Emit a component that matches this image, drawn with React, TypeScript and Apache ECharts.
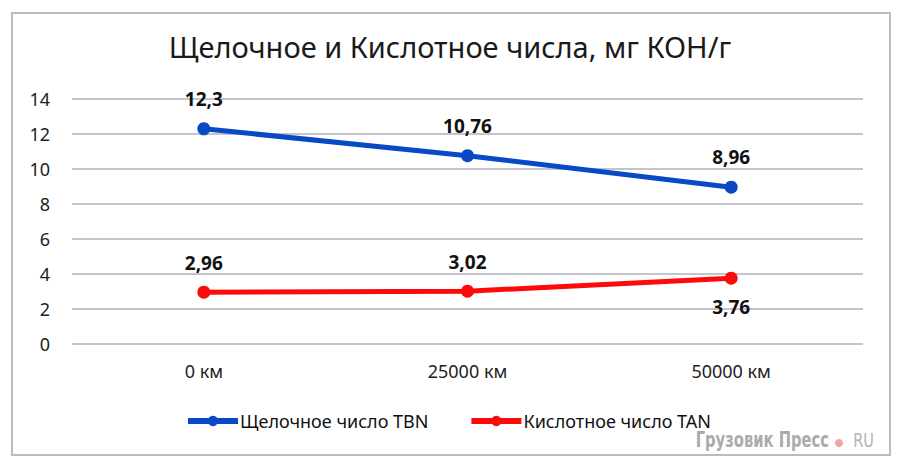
import React, { useEffect, useRef } from "react";
import * as echarts from "echarts";

const categories = ["0 км", "25000 км", "50000 км"];
const tbnValues = [12.3, 10.76, 8.96];
const tanValues = [2.96, 3.02, 3.76];
const tanLabelPositions = ["top", "top", "bottom"];
const yTicks = [0, 2, 4, 6, 8, 10, 12, 14];

const FONT = "'Noto Sans', 'Open Sans', sans-serif";
const WM_FONT = "'DejaVu Sans Condensed', 'DejaVu Sans', sans-serif";
const fmt = (v: number) => String(v).replace(".", ",");

export default function App() {
  const ref = useRef<HTMLDivElement>(null);
  useEffect(() => {
    const chart = echarts.init(ref.current!, null, { renderer: "svg" });
    chart.setOption({
      animation: false,
      backgroundColor: "#ffffff",
      title: {
        text: "Щелочное и Кислотное числа, мг КОН/г",
        left: "center",
        top: 27,
        textStyle: { fontFamily: FONT, fontSize: 29, fontWeight: "normal", color: "#1a1a1a" },
      },
      grid: { left: 72, right: 37, top: 99, bottom: 124 },
      xAxis: {
        type: "category",
        data: categories,
        boundaryGap: true,
        axisLine: { show: false },
        axisTick: { show: false },
        axisLabel: { fontFamily: FONT, fontSize: 18, color: "#222", margin: 18 },
      },
      yAxis: {
        type: "value",
        min: yTicks[0],
        max: yTicks[yTicks.length - 1],
        interval: 2,
        axisLine: { show: false },
        axisTick: { show: false },
        axisLabel: { fontFamily: FONT, fontSize: 18, color: "#222", margin: 22 },
        splitLine: { lineStyle: { color: "#c4c4cc", width: 2 } },
      },
      legend: {
        bottom: 33,
        left: 180,
        itemWidth: 50,
        itemHeight: 13,
        itemGap: 40,
        lineStyle: { width: 6 },
        textStyle: { fontFamily: FONT, fontSize: 18, color: "#111", padding: [0, 0, 0, -3] },
        data: ["Щелочное число TBN", "Кислотное число TAN"],
      },
      series: [
        {
          name: "Щелочное число TBN",
          type: "line",
          data: tbnValues,
          symbol: "circle",
          symbolSize: 13,
          lineStyle: { width: 5, color: "#0a49c6" },
          itemStyle: { color: "#0a49c6" },
          label: {
            show: true,
            position: "top",
            distance: 14,
            formatter: (p: any) => fmt(p.value),
            fontFamily: FONT,
            fontSize: 19,
            fontWeight: "bold",
            color: "#111",
          },
        },
        {
          name: "Кислотное число TAN",
          type: "line",
          data: tanValues.map((v, i) => ({
            value: v,
            label: { position: tanLabelPositions[i] },
          })),
          symbol: "circle",
          symbolSize: 13,
          lineStyle: { width: 5, color: "#ff0a0a" },
          itemStyle: { color: "#ff0a0a" },
          label: {
            show: true,
            distance: 13,
            formatter: (p: any) => fmt(p.value),
            fontFamily: FONT,
            fontSize: 19,
            fontWeight: "bold",
            color: "#111",
          },
        },
      ],
      graphic: [
        {
          type: "rect",
          shape: { x: 12, y: 13, width: 878, height: 442 },
          style: { fill: "none", stroke: "#bcbcc4", lineWidth: 2 },
          z: 0,
        },
        {
          type: "text",
          x: 829,
          y: 440,
          scaleX: 0.78,
          style: {
            text: "Грузовик Пресс",
            fontFamily: WM_FONT,
            fontSize: 21,
            fontWeight: "bold",
            fill: "#ababab",
            align: "right",
            verticalAlign: "middle",
          },
        },
        {
          type: "circle",
          shape: { cx: 839, cy: 443, r: 4 },
          style: { fill: "#f2a4a4" },
        },
        {
          type: "text",
          x: 874,
          y: 441,
          scaleX: 0.85,
          style: {
            text: "RU",
            fontFamily: WM_FONT,
            fontSize: 19,
            fill: "#b4b4b4",
            align: "right",
            verticalAlign: "middle",
          },
        },
      ],
    });
    return () => chart.dispose();
  }, []);
  return (
    <div
      ref={ref}
      style={{ position: "fixed", left: 0, top: 0, width: 900, height: 468 }}
    />
  );
}
